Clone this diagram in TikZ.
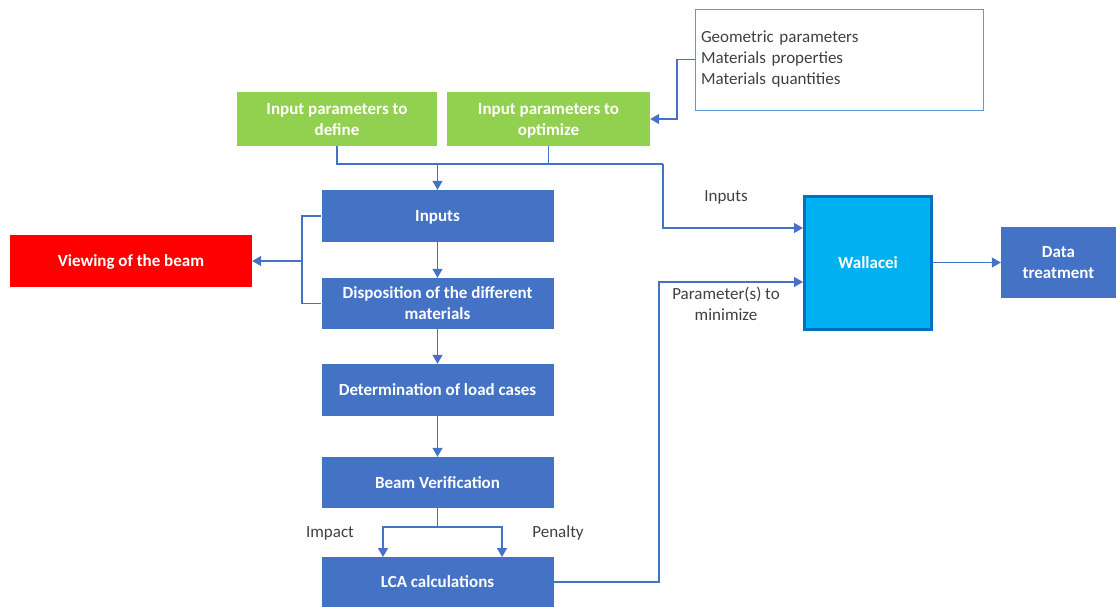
\documentclass[tikz,border=0pt]{standalone}
\usepackage{fontspec}
\setmainfont{Carlito}
\usetikzlibrary{arrows.meta}
\definecolor{boxblue}{HTML}{4472C4}
\definecolor{boxgreen}{HTML}{92D050}
\definecolor{boxred}{HTML}{FF0000}
\definecolor{walfill}{HTML}{00B0F0}
\definecolor{walline}{HTML}{0070C0}
\definecolor{frameblue}{HTML}{5B9BD5}
\definecolor{txtgray}{HTML}{404040}
\tikzset{
  x=1pt, y=-1pt,
  every node/.style={font=\fontsize{17}{21}\selectfont},
  stepbox/.style={rectangle, inner sep=0pt, text depth=0pt, text=white, font=\fontsize{17}{21}\selectfont\bfseries, align=center},
  bluebox/.style={stepbox, fill=boxblue, minimum width=232pt, minimum height=52pt},
  greenbox/.style={stepbox, fill=boxgreen, minimum height=54pt},
  conn/.style={draw=boxblue, line width=1.4pt},
  arr/.style={conn, -{Triangle[length=9pt,width=10pt]}},
  lbl/.style={text=txtgray, align=center, text depth=0pt},
}
\begin{document}
\begin{tikzpicture}
\useasboundingbox (0,0) rectangle (1116,606);

% input parameter boxes
\node[greenbox, minimum width=200pt] (g1) at (337,119) {Input parameters to\\define};
\node[greenbox, minimum width=203pt] (g2) at (548.5,119) {Input parameters to\\optimize};
\node[draw=frameblue, line width=1pt, minimum width=288pt, minimum height=101pt,
      text width=276pt, inner sep=6pt, align=left, text=txtgray] (par) at (839,59.5)
      {Geometric parameters\\Materials properties\\Materials quantities};

% main chain
\node[bluebox] (inp) at (437.5,216) {Inputs};
\node[bluebox, minimum height=51pt] (disp) at (437.5,303.5) {Disposition of the different\\materials};
\node[bluebox] (load) at (437.5,390) {Determination of load cases};
\node[bluebox, minimum height=51pt] (bv) at (437.5,482.5) {Beam Verification};
\node[bluebox, minimum height=50pt] (lca) at (437.5,582) {LCA calculations};

\node[stepbox, fill=boxred, minimum width=242pt, minimum height=52pt] (view) at (131,261) {Viewing of the beam};

\node[stepbox, fill=walfill, draw=walline, line width=3pt, minimum width=127pt, minimum height=133pt] (wal) at (868,263) {Wallacei};
\node[stepbox, fill=boxblue, minimum width=115pt, minimum height=71pt] (dt) at (1058.5,262.5) {Data\\treatment};

% helper points
\coordinate (bus) at (437.5,164);
\coordinate (busR) at (663,164);
\coordinate (walin) at (803,228);
\coordinate (walmin) at (803,282);
\coordinate (vbus) at (302,261);
\coordinate (pc) at (677,90);
\coordinate (split) at (437.5,527);
\coordinate (lcaL) at (383,557);
\coordinate (lcaR) at (502,557);
\coordinate (up) at (659,420);

% connectors
\draw[arr] (par.west) -| (pc) |- (g2.east);
\draw[conn] (g1.south) |- (busR);
\draw[conn] (g2.south) -- (g2.south |- bus);
\draw[arr] (bus) -- (inp.north);
\draw[arr] (busR) |- (walin);

\draw[conn] (inp.west) -| (vbus) |- (disp.west);
\draw[arr] (vbus) -- (view.east);

\draw[arr] (inp.south) -- (disp.north);
\draw[arr] (disp.south) -- (load.north);
\draw[arr] (load.south) -- (bv.north);
\draw[conn] (bv.south) -- (split);
\draw[arr] (split) -| (lcaL);
\draw[arr] (split) -| (lcaR);

\draw[arr] (lca.east) -| (up) |- (walmin);
\draw[arr] (wal.east |- dt.west) -- (dt.west);

% connector labels
\node[lbl] (lin) at (726,196) {Inputs};
\node[lbl] (lmin) at (726,303.5) {Parameter(s) to\\minimize};
\node[lbl] (limp) at (330,532) {Impact};
\node[lbl] (lpen) at (558,532) {Penalty};
\end{tikzpicture}
\end{document}
